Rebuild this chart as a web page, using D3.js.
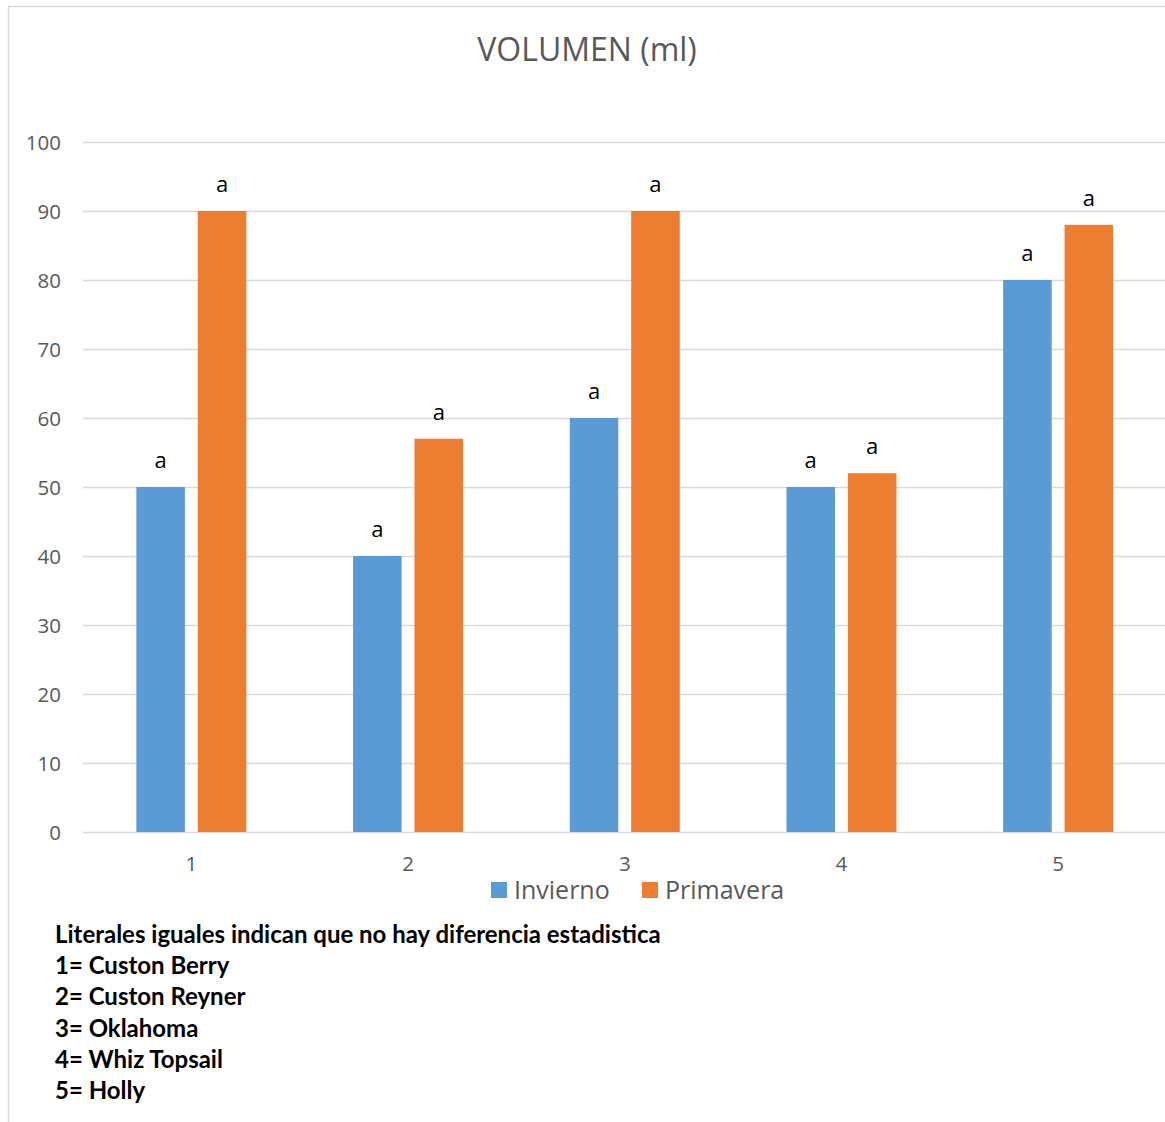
<!DOCTYPE html>
<html>
<head>
<meta charset="utf-8">
<script src="https://cdn.jsdelivr.net/npm/d3@7"></script>
<style>
  html, body { margin: 0; padding: 0; background: #fff; }
  svg { display: block; }
</style>
</head>
<body>
<svg id="chart" width="1165" height="1122"></svg>
<script>
// Volume per variety and season
const categories = ["1", "2", "3", "4", "5"];
const seriesNames = ["Invierno", "Primavera"];
const invierno = [50, 40, 60, 50, 80];
const primavera = [90, 57, 90, 52, 88];
const letrasInvierno = ["a", "a", "a", "a", "a"];
const letrasPrimavera = ["a", "a", "a", "a", "a"];
const yTicks = [0, 10, 20, 30, 40, 50, 60, 70, 80, 90, 100];
const notes = [
  "Literales iguales indican que no hay diferencia estadistica",
  "1= Custon Berry",
  "2= Custon Reyner",
  "3= Oklahoma",
  "4= Whiz Topsail",
  "5= Holly"
];
const colors = ["#5b9bd5", "#ed7d31"];

const svg = d3.select("#chart");
const W = 1165, H = 1122;
const font = "'Open Sans', 'Noto Sans', sans-serif";

// outer chart frame (continues past the right and bottom edges)
svg.append("rect")
  .attr("x", 8.5).attr("y", 6.5)
  .attr("width", W + 20).attr("height", H + 20)
  .attr("fill", "#fff")
  .attr("stroke", "#d9d9d9").attr("stroke-width", 1.5);

// title
svg.append("text")
  .attr("x", 587).attr("y", 61)
  .attr("text-anchor", "middle")
  .attr("font-family", font)
  .attr("font-size", 32)
  .attr("fill", "#595959")
  .text("VOLUMEN (ml)");

const x0 = d3.scaleBand()
  .domain(categories)
  .range([83, 1166.5])
  .paddingInner(0).paddingOuter(0);

const x1 = d3.scaleBand()
  .domain(seriesNames)
  .range([-55, 55])
  .paddingInner(0.21).paddingOuter(0);

const y = d3.scaleLinear().domain([0, 100]).range([832, 142]);

// horizontal gridlines
svg.append("g")
  .selectAll("line")
  .data(yTicks)
  .join("line")
  .attr("x1", 83).attr("x2", W)
  .attr("y1", d => Math.round(y(d)) + 0.5)
  .attr("y2", d => Math.round(y(d)) + 0.5)
  .attr("stroke", "#d9d9d9").attr("stroke-width", 1.5);

// y tick labels
const yAxis = d3.axisLeft(y).tickValues(yTicks).tickSize(0).tickPadding(0);
const gy = svg.append("g").attr("transform", "translate(61,0)").call(yAxis);
gy.select(".domain").remove();
gy.selectAll("text")
  .attr("font-family", font)
  .attr("font-size", 20.5)
  .attr("fill", "#595959")
  .attr("dy", "0.35em");

// x tick labels
const xAxis = d3.axisBottom(x0).tickSize(0).tickPadding(0);
const gx = svg.append("g").attr("transform", "translate(0,856)").call(xAxis);
gx.select(".domain").remove();
gx.selectAll("text")
  .attr("font-family", font)
  .attr("font-size", 20.5)
  .attr("fill", "#595959")
  .attr("dy", "0.71em");

// bars
const rows = categories.map((c, i) => ({
  cat: c,
  vals: [
    { s: seriesNames[0], v: invierno[i], l: letrasInvierno[i] },
    { s: seriesNames[1], v: primavera[i], l: letrasPrimavera[i] }
  ]
}));

const groups = svg.append("g")
  .selectAll("g")
  .data(rows)
  .join("g")
  .attr("transform", d => `translate(${x0(d.cat) + x0.bandwidth() / 2},0)`);

groups.selectAll("rect")
  .data(d => d.vals)
  .join("rect")
  .attr("x", d => x1(d.s))
  .attr("width", x1.bandwidth())
  .attr("y", d => y(d.v))
  .attr("height", d => y(0) - y(d.v))
  .attr("fill", (d, i) => colors[i]);

// significance letters
groups.selectAll("text")
  .data(d => d.vals)
  .join("text")
  .attr("x", d => x1(d.s) + x1.bandwidth() / 2)
  .attr("y", d => y(d.v) - 19)
  .attr("text-anchor", "middle")
  .attr("font-family", font)
  .attr("font-size", 22)
  .attr("fill", "#000")
  .text(d => d.l);

// legend
const legend = svg.append("g").attr("transform", "translate(491,882)");
const legendX = [0, 151];
seriesNames.forEach((s, i) => {
  const g = legend.append("g").attr("transform", `translate(${legendX[i]},0)`);
  g.append("rect").attr("width", 16).attr("height", 16).attr("fill", colors[i]);
  g.append("text")
    .attr("x", 23).attr("y", 16.5)
    .attr("font-family", font)
    .attr("font-size", 25)
    .attr("fill", "#595959")
    .text(s);
});

// notes below the chart
const noteText = svg.append("g")
  .selectAll("text")
  .data(notes)
  .join("text")
  .attr("x", 55)
  .attr("y", (d, i) => 943 + i * 31.2)
  .attr("font-family", "Lato, 'Open Sans', sans-serif")
  .attr("font-weight", "bold")
  .attr("font-size", 22)
  .attr("fill", "#000")
  .text(d => d);

// size the notes so the first line spans its full width
const firstLen = noteText.node().getComputedTextLength();
if (firstLen > 0) {
  const fs = 22 * 606 / firstLen;
  noteText.attr("font-size", fs);
}
</script>
</body>
</html>
